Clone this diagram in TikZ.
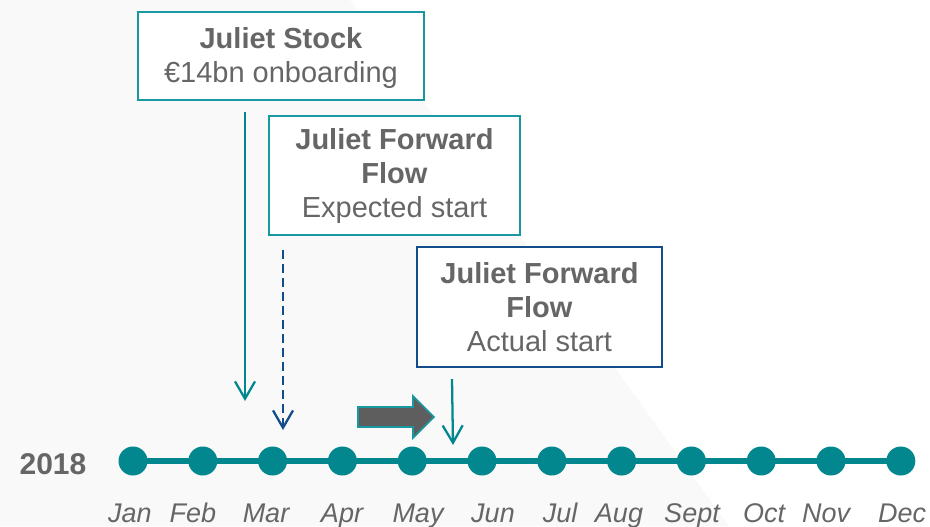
\documentclass[tikz,border=0pt]{standalone}
\usepackage{fontspec}
\setmainfont{Liberation Sans}
\usetikzlibrary{arrows.meta}

\definecolor{tealdot}{HTML}{02878F}
\definecolor{tealline}{HTML}{1898A0}
\definecolor{navy}{HTML}{124C8A}
\definecolor{txtgrey}{HTML}{666666}
\definecolor{wedgegrey}{HTML}{F9F9F9}
\definecolor{blockgrey}{HTML}{5E5E5E}

\tikzset{
  infobox/.style={draw, line width=1.5pt, fill=white, text=txtgrey, align=center,
    inner sep=0pt, font=\fontsize{21.75pt}{25.5pt}\selectfont},
  monthdot/.style={circle, fill=tealdot, inner sep=0pt, minimum size=21.75pt},
  monthlabel/.style={text=txtgrey, font=\fontsize{20.25pt}{24pt}\selectfont\itshape, anchor=base},
  pointer/.style={line width=1.7pt, -{Straight Barb[length=13pt, width=15pt, line width=1.7pt]}},
}

\begin{document}
\begin{tikzpicture}[x=0.75pt, y=-0.75pt]
  \useasboundingbox (0,0) rectangle (930,526);
  % pale background wedge
  \fill[wedgegrey] (0,0) -- (350,0) -- (729,526) -- (0,526) -- cycle;

  % information boxes
  \node[infobox, draw=tealline, minimum width=214.5pt, minimum height=66pt, text depth=1pt]
    (stock) at (281,56) {\textbf{Juliet Stock}\\€14bn onboarding};
  \node[infobox, draw=tealline, minimum width=188.25pt, minimum height=89.25pt]
    (expected) at (394.5,175.5) {\textbf{Juliet Forward}\\\textbf{Flow}\\Expected start};
  \node[infobox, draw=navy, minimum width=183.75pt, minimum height=90pt]
    (actual) at (539.5,307) {\textbf{Juliet Forward}\\\textbf{Flow}\\Actual start};

  % year label
  \node[text=txtgrey, font=\fontsize{22.5pt}{26pt}\selectfont\bfseries, anchor=base]
    (year) at (53,474) {2018};

  % timeline
  \coordinate (tl0) at (133,461);
  \coordinate (tl1) at (901,461);
  \draw[tealdot, line width=4.5pt] (tl0) -- (tl1);
  \foreach \m [count=\i from 0] in {Jan,Feb,Mar,Apr,May,Jun,Jul,Aug,Sept,Oct,Nov,Dec} {
    \node[monthdot] (dot\i) at (133+69.8*\i,461) {};
  }
  \foreach \m/\x in {Jan/130,Feb/193,Mar/266,Apr/342,May/418,Jun/493,Jul/560,Aug/619,Sept/692,Oct/764,Nov/826,Dec/902} {
    \node[monthlabel] (lbl\m) at (\x,522) {\m};
  }

  % pointers down to the timeline
  \coordinate (p1s) at (245,112);
  \coordinate (p1e) at (245,401);
  \draw[pointer, tealdot] (p1s) -- (p1e);

  \coordinate (p2s) at (283,250);
  \coordinate (p2e) at (283,430);
  \draw[pointer, navy, line width=1.9pt, dash pattern=on 6.5pt off 4pt] (p2s) -- (p2e);

  \coordinate (p3s) at (452,379);
  \coordinate (p3e) at (453,445);
  \draw[pointer, tealdot] (p3s) -- (p3e);

  % block arrow showing the delay
  \filldraw[fill=blockgrey, draw=tealline, line width=1.2pt, line join=miter]
    (358,407) -- (413,407) -- (413,396) -- (434,417) -- (413,438) -- (413,427) -- (358,427) -- cycle;
\end{tikzpicture}
\end{document}
